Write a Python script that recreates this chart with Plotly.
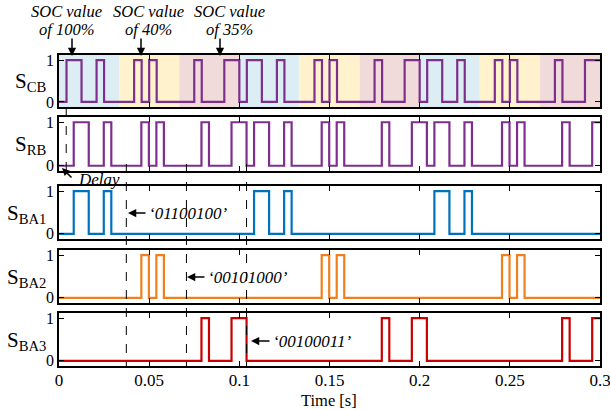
import plotly.graph_objects as go

# ---------------- data ----------------
band_duration = 1 / 30          # s, one 8-bit word
bit_duration = 1 / 240          # s
delay = 0.004                   # s, SRB delay relative to SCB
t_end = 0.3

scb_words = ["01100100", "00101000", "00100011",
             "01100100", "00101000", "00100011",
             "01100100", "00101000", "00100011"]
band_colors = ["#DCEEF4", "#FFF2CD", "#F1DBDA",
               "#DCEEF4", "#FFF2CD", "#F1DBDA",
               "#DCEEF4", "#FFF2CD", "#F1DBDA"]
sba1_bands = [0, 3, 6]
sba2_bands = [1, 4, 7]
sba3_bands = [2, 5, 8]

x_ticks = [0, 0.05, 0.1, 0.15, 0.2, 0.25, 0.3]
x_tick_text = ["0", "0.05", "0.1", "0.15", "0.2", "0.25", "0.3"]

code_labels = ["‘01100100’", "‘00101000’", "‘00100011’"]
soc_line1 = ["SOC value", "SOC value", "SOC value"]
soc_line2 = ["of 100%", "of 40%", "of 35%"]
row_labels = ["S<sub>CB</sub>", "S<sub>RB</sub>", "S<sub>BA1</sub>", "S<sub>BA2</sub>", "S<sub>BA3</sub>"]

purple = "#7E2F8E"
blue = "#0072BD"
orange = "#F07F1E"
red = "#C80000"
FONT = "Liberation Serif"

# ---------------- build step signals ----------------
def word_signal(words, shift, keep_bands=None):
    xs, ys = [0.0], [0]
    for b, w in enumerate(words):
        for k, ch in enumerate(w):
            v = int(ch)
            if keep_bands is not None and b not in keep_bands:
                v = 0
            xs.append(b * band_duration + k * bit_duration + shift)
            ys.append(v)
    xs.append(t_end + 0.02)
    ys.append(ys[-1])
    return xs, ys

scb_x, scb_y = word_signal(scb_words, 0.0)
srb_x, srb_y = word_signal(scb_words, delay)
sba1_x, sba1_y = word_signal(scb_words, delay, sba1_bands)
sba2_x, sba2_y = word_signal(scb_words, delay, sba2_bands)
sba3_x, sba3_y = word_signal(scb_words, delay, sba3_bands)

W, H = 610, 410
def PX(px): return px / W
def PY(py): return 1 - py / H

panels = [(55, 107), (117, 171), (186, 239), (250, 303), (313, 366)]
x_dom = [PX(59), PX(600)]

fig = go.Figure()
signals = [(scb_x, scb_y, purple), (srb_x, srb_y, purple),
           (sba1_x, sba1_y, blue), (sba2_x, sba2_y, orange), (sba3_x, sba3_y, red)]
for i, (xs, ys, c) in enumerate(signals):
    sfx = "" if i == 0 else str(i + 1)
    fig.add_trace(go.Scatter(x=xs, y=ys, mode="lines", line=dict(color=c, width=2.2, shape="hv"),
                             xaxis="x" + sfx, yaxis="y" + sfx, showlegend=False, hoverinfo="skip"))

layout = dict(width=W, height=H, margin=dict(l=0, r=0, t=0, b=0, autoexpand=False),
              paper_bgcolor="white", plot_bgcolor="rgba(0,0,0,0)",
              font=dict(family=FONT, size=16, color="black"), showlegend=False)
for i, (top, bot) in enumerate(panels):
    sfx = "" if i == 0 else str(i + 1)
    last = (i == len(panels) - 1)
    xa = dict(domain=x_dom, range=[0, t_end + 1e-7], anchor="y" + sfx,
              tickvals=x_ticks, ticktext=x_tick_text, showticklabels=last,
              ticks="inside", ticklen=5, tickwidth=1.2, tickcolor="black",
              showline=True, linecolor="black", linewidth=1.5, mirror="ticks",
              showgrid=(i == 0), gridcolor="rgba(40,40,40,0.85)", gridwidth=1,
              zeroline=False, tickfont=dict(family=FONT, size=17), ticklabelstandoff=-2,
              ticklabeloverflow="allow")
    if i > 0:
        xa["matches"] = "x"
    ya = dict(domain=[PY(bot), PY(top)], range=[-0.12, 1.12], anchor="x" + sfx,
              tickvals=[0, 1], ticktext=["0", "1"],
              ticks="inside", ticklen=5, tickwidth=1.2, tickcolor="black",
              showline=True, linecolor="black", linewidth=1.5, mirror="ticks",
              showgrid=False, zeroline=False, tickfont=dict(family=FONT, size=16))
    layout["xaxis" + sfx] = xa
    layout["yaxis" + sfx] = ya
fig.update_layout(**layout)

shapes = []
# coloured SOC bands behind SCB
for b, col in enumerate(band_colors):
    shapes.append(dict(type="rect", xref="x", yref="y domain",
                       x0=b * band_duration, x1=(b + 1) * band_duration, y0=0, y1=1,
                       fillcolor=col, line=dict(width=0), layer="below"))
# delay marker
shapes.append(dict(type="line", xref="x", yref="paper", x0=delay, x1=delay,
                   y0=PY(108), y1=PY(178), line=dict(color="black", width=1, dash="dash")))
# ends of words (after delay)
for b in [1, 2, 3]:
    xv = b * band_duration + delay
    shapes.append(dict(type="line", xref="x", yref="paper", x0=xv, x1=xv,
                       y0=PY(164), y1=PY(366), line=dict(color="black", width=1, dash="dash")))
fig.update_layout(shapes=shapes)

def arrow(hx, hy, tx, ty, size=1.1):
    return dict(xref="paper", yref="paper", x=PX(hx), y=PY(hy),
                ax=tx - hx, ay=ty - hy, axref="pixel", ayref="pixel",
                text="", showarrow=True, arrowhead=2, arrowsize=size, arrowwidth=1.5,
                arrowcolor="black", standoff=0, startstandoff=0)

def label(x, y, text, size, anchor="left"):
    return dict(xref="paper", yref="paper", x=PX(x), y=PY(y),
                xanchor=anchor, yanchor="middle", showarrow=False,
                text=text, font=dict(family=FONT, size=size))

ann = []
# row labels
for i, (top, bot) in enumerate(panels):
    ann.append(label(48, (top + bot) / 2 + 1, row_labels[i], 21, "right"))
# SOC labels and arrows
soc_text_x = [66, 148, 230]
soc_arrow_x = [72, 141, 220]
for k in range(3):
    ann.append(label(soc_text_x[k], 11, "<i>" + soc_line1[k] + "</i>", 16.5, "center"))
    ann.append(label(soc_text_x[k], 30, "<i>" + soc_line2[k] + "</i>", 16.5, "center"))
    ann.append(arrow(soc_arrow_x[k], 56, soc_arrow_x[k], 37))
# Delay
ann.append(arrow(62, 168, 73, 179, 1.0))
ann.append(label(76, 180, "<i>Delay</i>", 17))
# code labels with arrows
code_pos = [(128, 147, 213), (187, 206, 277), (251, 271, 341)]
for k, (hx, tx, yy) in enumerate(code_pos):
    ann.append(arrow(hx, yy, tx, yy))
    ann.append(label(tx, yy, "<i>" + code_labels[k] + "</i>", 17))
# x title
ann.append(label(329, 400, "Time [s]", 16.5, "center"))
fig.update_layout(annotations=ann)

fig.write_html("out.html", post_script="document.body.style.margin='0px';",
               config={"displayModeBar": False})
